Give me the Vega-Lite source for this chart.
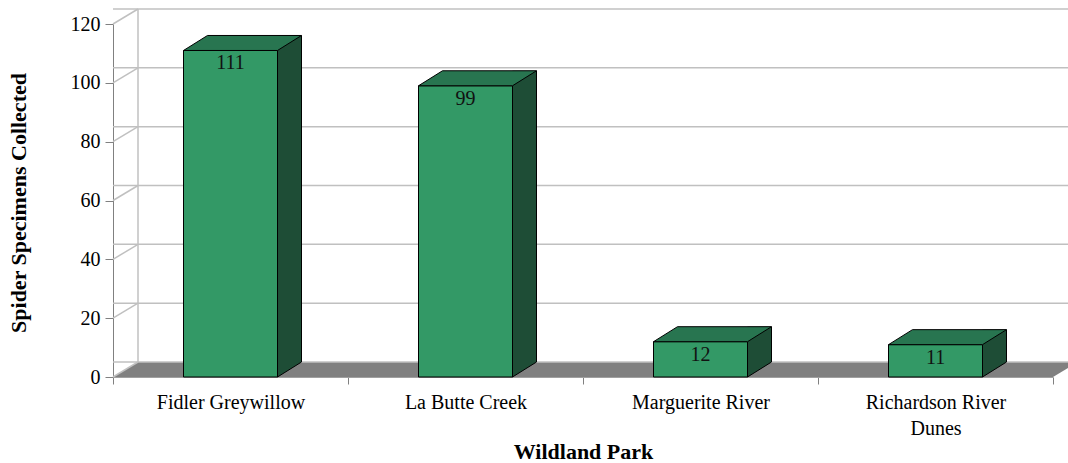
{
  "$schema": "https://vega.github.io/schema/vega-lite/v6.json",
  "width": 940,
  "height": 353,
  "autosize": "none",
  "padding": {"left": 113, "top": 24, "right": 15, "bottom": 86},
  "background": "white",
  "config": {
    "view": {"stroke": null},
    "axisX": {
      "tickBand": "extent",
      "labelAngle": 0,
      "domainColor": "#a0a0a0",
      "tickColor": "#808080",
      "tickSize": 7,
      "labelPadding": 8,
      "labelFont": "Liberation Serif",
      "labelFontSize": 20,
      "labelColor": "#000000",
      "labelLineHeight": 26,
      "labelLimit": 300,
      "grid": false,
      "titleFont": "Liberation Serif",
      "titleFontSize": 22,
      "titleFontWeight": "bold",
      "titleColor": "#000000",
      "titleY": 81,
      "titleBaseline": "alphabetic"
    },
    "axisY": {
      "grid": false,
      "domainColor": "#808080",
      "tickColor": "#808080",
      "tickSize": 8,
      "labelPadding": 5,
      "labelFont": "Liberation Serif",
      "labelFontSize": 20,
      "labelColor": "#000000",
      "titleFont": "Liberation Serif",
      "titleFontSize": 22,
      "titleFontWeight": "bold",
      "titleColor": "#000000",
      "titleAngle": -90,
      "titleX": -88,
      "titleY": 178.5,
      "titleAlign": "center",
      "titleBaseline": "alphabetic"
    }
  },
  "datasets": {
    "parks": [
      {"park": "Fidler Greywillow", "count": 111},
      {"park": "La Butte Creek", "count": 99},
      {"park": "Marguerite River", "count": 12},
      {"park": "Richardson River Dunes", "count": 11}
    ],
    "grid": [{"v": 0}, {"v": 20}, {"v": 40}, {"v": 60}, {"v": 80}, {"v": 100}, {"v": 120}]
  },
  "layer": [
    {
      "data": {"name": "parks"},
      "mark": {"type": "bar", "width": 94, "fill": "#339966", "stroke": "#000000", "strokeWidth": 1, "opacity": 0},
      "encoding": {
        "x": {
          "field": "park", "type": "nominal", "sort": null,
          "scale": {"type": "band", "paddingInner": 0, "paddingOuter": 0},
          "axis": {
            "orient": "bottom",
            "title": "Wildland Park",
            "labelExpr": "datum.label == 'Richardson River Dunes' ? ['Richardson River', 'Dunes'] : datum.label"
          }
        },
        "y": {
          "field": "count", "type": "quantitative",
          "scale": {"domain": [0, 120], "nice": false},
          "axis": {
            "title": "Spider Specimens Collected",
            "values": [0, 20, 40, 60, 80, 100, 120]
          }
        }
      }
    },
    {
      "data": {"name": "parks"},
      "transform": [{"filter": "datum.park == 'Fidler Greywillow'"}],
      "mark": {"type": "point", "shape": "M-117.5,0 L822.5,0 L847.5,-15 L-92.5,-15 Z", "size": 4, "filled": true, "color": "#808080", "opacity": 1},
      "encoding": {
        "x": {"field": "park", "type": "nominal", "sort": null},
        "y": {"datum": 0, "type": "quantitative"}
      }
    },
    {
      "data": {"name": "grid"},
      "mark": {"type": "rule", "color": "#c0c0c0", "strokeWidth": 1.5, "xOffset": 25, "x2Offset": 25, "yOffset": -15},
      "encoding": {
        "y": {"field": "v", "type": "quantitative"}
      }
    },
    {
      "data": {"name": "grid"},
      "mark": {"type": "point", "shape": "M-117.5,0 L-92.5,-15", "size": 4, "filled": false, "color": "#c0c0c0", "strokeWidth": 1.5, "opacity": 1},
      "encoding": {
        "x": {"datum": "Fidler Greywillow", "type": "nominal"},
        "y": {"field": "v", "type": "quantitative"}
      }
    },
    {
      "data": {"name": "parks"},
      "transform": [{"filter": "datum.park == 'Fidler Greywillow'"}],
      "mark": {"type": "rule", "color": "#c0c0c0", "strokeWidth": 1.5, "xOffset": -92.5, "yOffset": -15, "y2Offset": -15},
      "encoding": {
        "x": {"field": "park", "type": "nominal", "sort": null},
        "y": {"datum": 120, "type": "quantitative"},
        "y2": {"datum": 0}
      }
    },
    {
      "data": {"name": "parks"},
      "mark": {"type": "bar", "width": 24, "xOffset": 59, "yOffset": -15, "y2Offset": -15, "fill": "#1e4d36"},
      "encoding": {
        "x": {"field": "park", "type": "nominal", "sort": null},
        "y": {"field": "count", "type": "quantitative"},
        "y2": {"datum": 0}
      }
    },
    {
      "data": {"name": "parks"},
      "mark": {"type": "point", "shape": "M47,0 L71,-15 L47,-15 Z", "size": 4, "filled": true, "color": "#1e4d36", "opacity": 1},
      "encoding": {
        "x": {"field": "park", "type": "nominal", "sort": null},
        "y": {"datum": 0, "type": "quantitative"}
      }
    },
    {
      "data": {"name": "parks"},
      "mark": {"type": "rule", "color": "#000000", "strokeWidth": 1, "xOffset": 71, "yOffset": -15, "y2Offset": -15},
      "encoding": {
        "x": {"field": "park", "type": "nominal", "sort": null},
        "y": {"field": "count", "type": "quantitative"},
        "y2": {"datum": 0}
      }
    },
    {
      "data": {"name": "parks"},
      "mark": {"type": "point", "shape": "M47,0 L71,-15", "size": 4, "filled": false, "color": "#000000", "strokeWidth": 1, "opacity": 1},
      "encoding": {
        "x": {"field": "park", "type": "nominal", "sort": null},
        "y": {"datum": 0, "type": "quantitative"}
      }
    },
    {
      "data": {"name": "parks"},
      "mark": {"type": "bar", "width": 94, "fill": "#339966", "stroke": "#000000", "strokeWidth": 1},
      "encoding": {
        "x": {"field": "park", "type": "nominal", "sort": null},
        "y": {"field": "count", "type": "quantitative"}
      }
    },
    {
      "data": {"name": "parks"},
      "mark": {"type": "point", "shape": "M-47,0 L47,0 L71,-15 L-23,-15 Z", "size": 4, "filled": true, "fill": "#287550", "stroke": "#000000", "strokeWidth": 1, "opacity": 1},
      "encoding": {
        "x": {"field": "park", "type": "nominal", "sort": null},
        "y": {"field": "count", "type": "quantitative"}
      }
    },
    {
      "data": {"name": "parks"},
      "mark": {"type": "text", "font": "Liberation Serif", "fontSize": 20, "color": "#111111", "baseline": "alphabetic", "dy": 19},
      "encoding": {
        "x": {"field": "park", "type": "nominal", "sort": null},
        "y": {"field": "count", "type": "quantitative"},
        "text": {"field": "count", "type": "quantitative"}
      }
    }
  ]
}
